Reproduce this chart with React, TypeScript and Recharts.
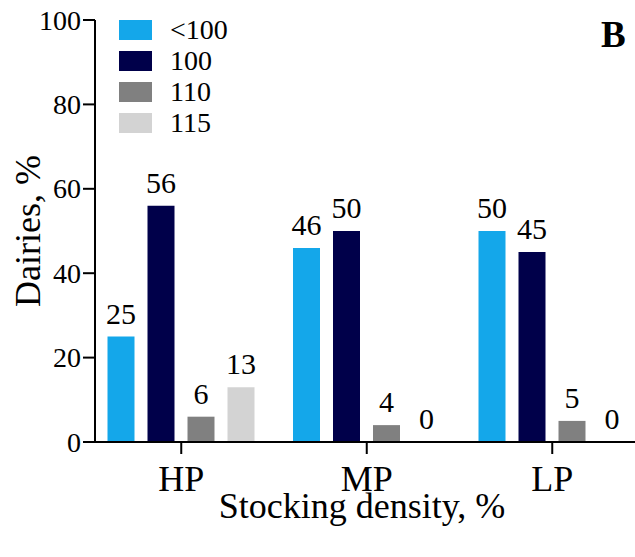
import React from 'react';
import { BarChart, Bar, XAxis, YAxis, LabelList, Label } from 'recharts';

const categories = ['HP', 'MP', 'LP'];
const below100 = [25, 46, 50];
const at100 = [56, 50, 45];
const at110 = [6, 4, 5];
const at115 = [13, 0, 0];
const yTicks = [0, 20, 40, 60, 80, 100];

const seriesNames = ['<100', '100', '110', '115'];
const seriesColors = ['#14A7EA', '#00004A', '#808080', '#D3D3D3'];

const data = categories.map((cat, i) => ({
  cat,
  s0: below100[i],
  s1: at100[i],
  s2: at110[i],
  s3: at115[i],
}));

const FONT = 'Liberation Serif';

const YTitle = (props: any) => {
  const vb = props.viewBox || { x: 0, y: 20, width: 95, height: 422 };
  const cy = vb.y + vb.height / 2;
  return (
    <text x={40} y={cy} transform={`rotate(-90, 40, ${cy})`} textAnchor="middle"
      fontFamily={FONT} fontSize={36} fill="#000">
      Dairies, %
    </text>
  );
};

const XTitle = (props: any) => {
  const vb = props.viewBox || { x: 95, y: 442, width: 550, height: 115 };
  return (
    <text x={vb.x + vb.width / 2 - 8} y={518} textAnchor="middle"
      fontFamily={FONT} fontSize={36} fill="#000">
      Stocking density, %
    </text>
  );
};

const XTick = ({ x, y, payload }: any) => (
  <text x={x} y={y} dy="0.7em" textAnchor="middle" fontFamily={FONT} fontSize={36} fill="#000">
    {payload.value}
  </text>
);

const YTick = ({ x, y, payload }: any) => (
  <text x={x} y={y} dy="0.34em" textAnchor="end" fontFamily={FONT} fontSize={28} fill="#000">
    {payload.value}
  </text>
);

const ValueLabel = ({ x, y, width, value }: any) => (
  <text x={Number(x) + Number(width) / 2} y={Number(y) - 13} textAnchor="middle"
    fontFamily={FONT} fontSize={30} fill="#000">
    {value}
  </text>
);

export default function App() {
  return (
    <div style={{ position: 'absolute', left: 0, top: 0, width: 635, height: 557, overflow: 'hidden', background: '#fff' }}>
      <BarChart width={645} height={557} data={data} barSize={27} barGap={13}
        margin={{ top: 20, right: 0, left: 0, bottom: 0 }}>
        <XAxis dataKey="cat" height={115} padding={{ left: -6.5, right: 0 }}
          axisLine={{ stroke: '#000', strokeWidth: 2 }}
          tickLine={{ stroke: '#000', strokeWidth: 2 }} tickSize={12} tickMargin={12}
          tick={XTick}>
          <Label content={XTitle} />
        </XAxis>
        <YAxis width={95} domain={[0, 100]} ticks={yTicks} interval={0}
          axisLine={{ stroke: '#000', strokeWidth: 2 }}
          tickLine={{ stroke: '#000', strokeWidth: 2 }} tickSize={12}
          tick={YTick}>
          <Label content={YTitle} />
        </YAxis>
        {seriesNames.map((name, i) => (
          <Bar key={name} dataKey={`s${i}`} name={name} fill={seriesColors[i]}
            minPointSize={0.01} isAnimationActive={false}>
            <LabelList dataKey={`s${i}`} content={ValueLabel} />
          </Bar>
        ))}
      </BarChart>
      <div style={{ position: 'absolute', left: 119, top: 14, fontFamily: FONT, fontSize: 28, color: '#000' }}>
        {seriesNames.map((name, i) => (
          <div key={name} style={{ display: 'flex', alignItems: 'center', height: 31 }}>
            <span style={{ width: 33, height: 20, background: seriesColors[i], display: 'inline-block' }} />
            <span style={{ marginLeft: 18, lineHeight: '31px' }}>{name}</span>
          </div>
        ))}
      </div>
      <div style={{ position: 'absolute', left: 601, top: 17, fontFamily: FONT, fontSize: 37, fontWeight: 'bold', lineHeight: '36px', color: '#000' }}>
        B
      </div>
    </div>
  );
}
